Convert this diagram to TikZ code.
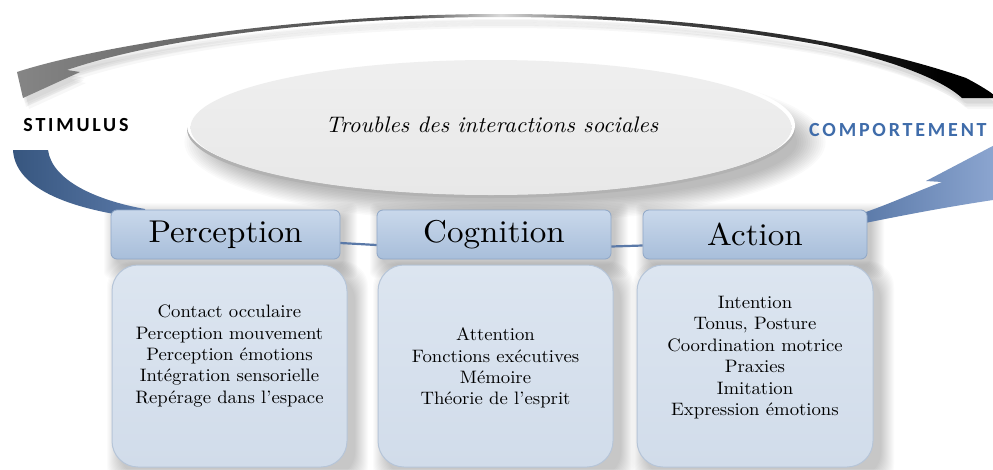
\documentclass[tikz,border=0pt]{standalone}
\usepackage{fontspec}
\newfontfamily\capsfont[LetterSpace=14]{Carlito}
\newfontfamily\bodyfont{lmroman10-regular}[Extension=.otf, FakeStretch=1.04]
\newfontfamily\headfont{lmroman10-regular}[Extension=.otf, FakeStretch=1.05]
\newfontfamily\itfont{lmroman10-italic}[Extension=.otf, FakeStretch=1.02]
\usetikzlibrary{calc,shapes.geometric}
\definecolor{hdrtop}{HTML}{C9D8EB}
\definecolor{hdrbot}{HTML}{A8BEDA}
\definecolor{hdrline}{HTML}{8FA7C7}
\definecolor{bodytop}{HTML}{DCE5F0}
\definecolor{bodybot}{HTML}{D1DCEA}
\definecolor{bodyline}{HTML}{B6C5D8}
\definecolor{ellA}{HTML}{EFEFEF}
\definecolor{ellB}{HTML}{E8E8E8}
\definecolor{bluedark}{HTML}{37567F}
\definecolor{bluemid}{HTML}{5A79A8}
\definecolor{bluelight}{HTML}{93ACD6}
\definecolor{compblue}{HTML}{3F6CAA}
\definecolor{bandA}{HTML}{858585}
\definecolor{bandB}{HTML}{626262}
\definecolor{bandC}{HTML}{4C4C4C}
\definecolor{bandD}{HTML}{DADADA}
\definecolor{bandE}{HTML}{262626}
\pgfdeclarehorizontalshading{topband}{100bp}{color(0bp)=(bandA); color(25bp)=(bandA); color(36bp)=(bandB); color(45bp)=(bandC); color(49.6bp)=(bandD); color(55bp)=(bandC); color(66bp)=(bandE); color(72bp)=(black); color(100bp)=(black)}
\newcommand\blurrect[5]{\foreach \i in {0,...,13}{\fill[black,opacity=0.014,rounded corners=#5] (#1-\i,#2-\i) rectangle (#3+\i,#4+\i);}}
\newcommand\topbandpath{(17,72) .. controls (100,45) and (300,14) .. (500,14) .. controls (720,14) and (880,48) .. (966,78) .. controls (985,88) and (995,95) .. (1000,100) -- (1000,98) -- (962,98) .. controls (945,82) and (900,62) .. (826,46) .. controls (730,28) and (620,17) .. (500,17) .. controls (330,17) and (160,38) .. (67,70) -- (80,72) -- (23,98) -- cycle}
\tikzset{
  hdr/.style={rounded corners=6pt, top color=hdrtop, bottom color=hdrbot, draw=hdrline, line width=0.8pt, minimum height=49pt, inner sep=0pt, font=\headfont\fontsize{31.5}{36}\selectfont},
  bodybox/.style={rounded corners=26pt, top color=bodytop, bottom color=bodybot, draw=bodyline, line width=1pt, minimum height=202pt, inner sep=0pt},
  bodytext/.style={align=center, inner sep=0pt, font=\bodyfont\fontsize{18}{21.4}\selectfont},
  link/.style={draw=bluemid, line width=2.2pt},
  capslabel/.style={inner sep=0pt, font=\capsfont\bfseries\fontsize{20}{24}\selectfont},
}
\begin{document}
\begin{tikzpicture}[x=1pt,y=-1pt]
\useasboundingbox (0,0) rectangle (993,469);
\clip (0,0) rectangle (993,469);
\fill[white] (0,0) rectangle (993,469);
% shadows
\foreach \i in {0,...,13}{\fill[black,opacity=0.018] (505,142) ellipse ({292+\i*2.2} and {60+\i*1.6});}
\foreach \dx/\dy in {2/5,4/8,6/11,3/9,5/6}{\fill[black,opacity=0.03,shift={(\dx,\dy)}] \topbandpath;}
\blurrect{120}{274}{355}{478}{26}
\blurrect{386}{274}{621}{478}{26}
\blurrect{645}{274}{881}{478}{26}
\blurrect{117}{216}{344}{265}{6}
\blurrect{383}{216}{615}{265}{6}
\blurrect{649}{216}{871}{265}{6}
% top band (grey to black)
\shade[shading=topband] \topbandpath;
% bottom band, left part
\shade[left color=bluedark, right color=bluemid] (13,150) -- (48,150) .. controls (52,180) and (95,200) .. (145,209) -- (145,216) -- (120,215) .. controls (60,205) and (15,185) .. (13,150) -- cycle;
% bottom band, right part with head
\shade[left color=bluemid, right color=bluelight] (860,214) .. controls (890,204) and (915,192) .. (942,182) -- (926,181) -- (1008,138) -- (1015,205) -- (993,200) .. controls (940,208) and (900,216) .. (860,224) -- cycle;
% ellipse
\fill[black!30] (491,129) ellipse (304 and 69);
\fill[white] (491,125.5) ellipse (304 and 69);
\node[ellipse, minimum width=601pt, minimum height=135pt, inner sep=0pt, top color=ellA, bottom color=ellB] (E) at (491,127.5) {};
\node[inner sep=0pt, font=\itfont\fontsize{22.5}{26}\selectfont] (ET) at (492,125) {Troubles des interactions sociales};
% side labels
\node[capslabel, text=black] (S) at (76,125) {STIMULUS};
\node[capslabel, text=compblue, anchor=west] (R) at (809,130) {COMPORTEMENT};
% headers
\node[hdr, minimum width=229pt] (P) at (225.5,234.5) {Perception};
\node[hdr, minimum width=234pt] (C) at (494,234.5) {Cognition};
\node[hdr, minimum width=224pt] (A) at (755,234.5) {Action};
\draw[link] ($(P.east)+(0,8.5)$) -- ($(C.west)+(0,10.5)$);
\draw[link] ($(C.east)+(0,12)$) -- ($(A.west)+(0,11)$);
% bodies
\node[bodybox, minimum width=235pt] (PB) at (229.5,366) {};
\node[bodybox, minimum width=235pt] (CB) at (495.5,366) {};
\node[bodybox, minimum width=236pt] (AB) at (755,366) {};
\node[bodytext] (PT) at (229.5,356) {Contact occulaire\\Perception mouvement\\Perception émotions\\Intégration sensorielle\\Repérage dans l’espace};
\node[bodytext] (CT) at (495.5,368) {Attention\\Fonctions exécutives\\Mémoire\\Théorie de l’esprit};
\node[bodytext] (AT) at (755,357.5) {Intention\\Tonus, Posture\\Coordination motrice\\Praxies\\Imitation\\Expression émotions};
\end{tikzpicture}
\end{document}
